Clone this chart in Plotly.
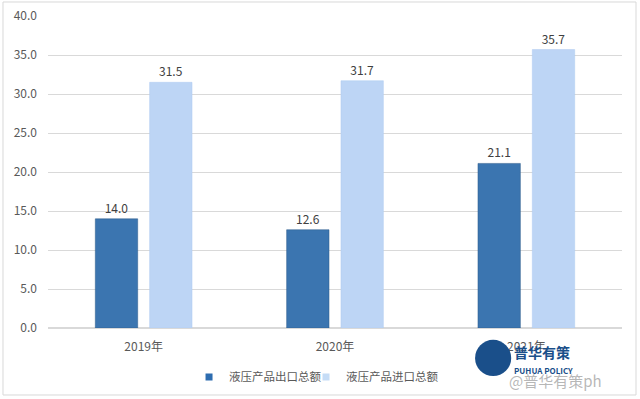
import plotly.graph_objects as go

years = ["2019年", "2020年", "2021年"]
export_vals = [14.0, 12.6, 21.1]
import_vals = [31.5, 31.7, 35.7]
series_names = ["液压产品出口总额", "液压产品进口总额"]
export_color = "#3b75b0"
import_color = "#bdd5f5"

FONT = "Microsoft YaHei, Noto Sans CJK SC, sans-serif"

fig = go.Figure()
fig.add_trace(go.Bar(
    x=years, y=export_vals, name=series_names[0], showlegend=False,
    marker=dict(color=export_color, line=dict(color="#2c5a88", width=0.5)),
    text=[f"{v:.1f}" for v in export_vals], textposition="outside",
    textfont=dict(size=12, color="#404040", family=FONT), cliponaxis=False,
))
fig.add_trace(go.Bar(
    x=years, y=import_vals, name=series_names[1], showlegend=False,
    marker=dict(color=import_color, line=dict(color="#aecbf1", width=0.5)),
    text=[f"{v:.1f}" for v in import_vals], textposition="outside",
    textfont=dict(size=12, color="#404040", family=FONT), cliponaxis=False,
))
# legend entries with small square markers (one legend box each for exact spacing)
fig.add_trace(go.Scatter(x=[None], y=[None], mode="markers", name=series_names[0],
                         legend="legend",
                         marker=dict(symbol="square", size=7, color="#2e6db0")))
fig.add_trace(go.Scatter(x=[None], y=[None], mode="markers", name=series_names[1],
                         legend="legend2",
                         marker=dict(symbol="square", size=7, color="#c5dcf6")))

legend_style = dict(orientation="h", y=-0.157, yanchor="middle", xanchor="left",
                    font=dict(size=11.5, color="#595959"), itemwidth=30,
                    itemclick=False, bgcolor="rgba(0,0,0,0)")

fig.update_layout(
    width=640, height=399,
    margin=dict(l=48, r=18, t=16, b=71, autoexpand=False),
    paper_bgcolor="white", plot_bgcolor="white",
    barmode="group", bargap=0.432, bargroupgap=0.22,
    font=dict(family=FONT, size=12, color="#595959"),
    showlegend=True,
    legend=dict(x=0.2457, **legend_style),
    legend2=dict(x=0.4495, **legend_style),
    yaxis=dict(range=[0, 40], dtick=5, tickformat=".1f", showgrid=True, automargin=False,
               gridcolor="#d9d9d9", gridwidth=1, zeroline=True, zerolinecolor="#d9d9d9",
               showline=False, ticks="", tickfont=dict(size=12, color="#595959"),
               ticklabelstandoff=10, ticklabeloverflow="allow"),
    xaxis=dict(showline=True, linecolor="#d9d9d9", ticks="", showgrid=False, automargin=False,
               tickfont=dict(size=12, color="#595959"), ticklabelstandoff=8),
)

# outer border of the chart
fig.add_shape(type="rect", xref="paper", yref="paper", x0=-0.0784, x1=1.0244,
              y0=-0.2147, y1=1.0449, line=dict(color="#d9d9d9", width=1))

# watermark
fig.add_shape(type="circle", xref="paper", yref="paper", x0=0.744, x1=0.807,
              y0=-0.154, y1=-0.038, fillcolor="#1a4f8a", line=dict(width=0))
fig.add_annotation(xref="paper", yref="paper", x=0.808, y=-0.040, xanchor="left", yanchor="top",
                   text="<b>普华有策</b>", showarrow=False,
                   font=dict(size=14, color="#1a4f8a", family=FONT))
fig.add_annotation(xref="paper", yref="paper", x=0.808, y=-0.112, xanchor="left", yanchor="top",
                   text="<b>PUHUA POLICY</b>", showarrow=False,
                   font=dict(size=8, color="#1a4f8a", family=FONT))
fig.add_annotation(xref="paper", yref="paper", x=0.80, y=-0.128, xanchor="left", yanchor="top",
                   text="@普华有策ph", showarrow=False,
                   font=dict(size=15, color="rgba(170,170,170,0.85)", family=FONT))

fig.write_html("out.html", config={"displayModeBar": False},
               post_script="document.body.style.margin='0';")
